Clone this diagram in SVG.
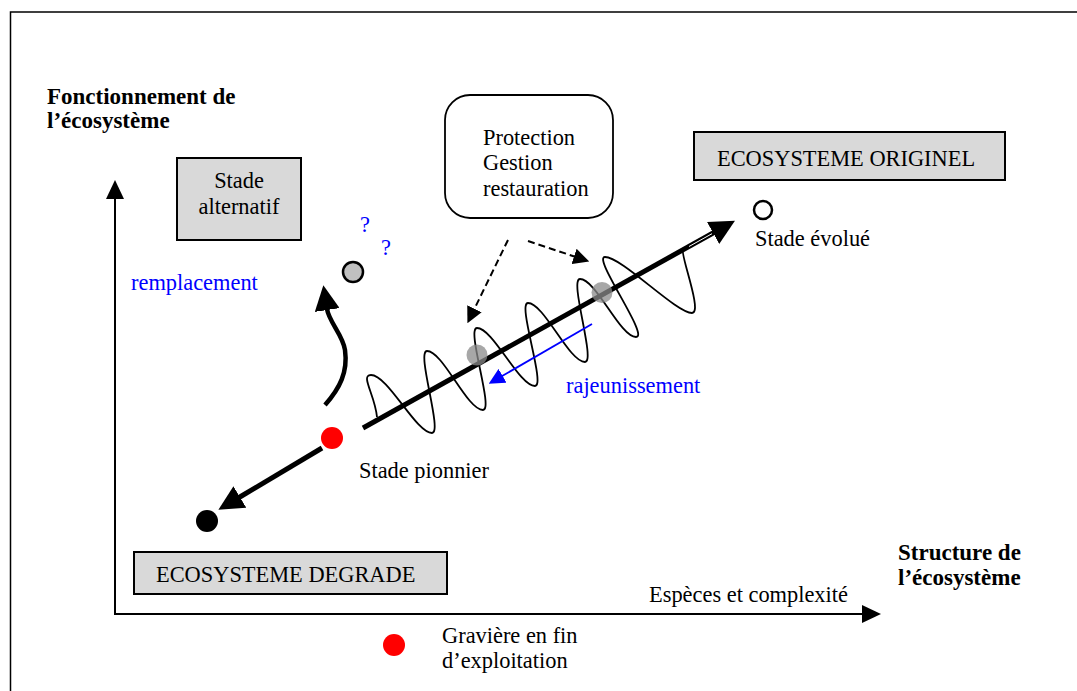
<svg xmlns="http://www.w3.org/2000/svg" width="1077" height="691" viewBox="0 0 1077 691">
<style>
text{font-family:"Liberation Serif","Times New Roman",serif;font-size:22.4px;fill:#000}
.b{font-weight:bold;font-size:23px}
.blue{fill:#0000ff}
.box{fill:#d9d9d9;stroke:#000;stroke-width:2}
.ax{stroke:#000;stroke-width:2;fill:none}
.thick{stroke:#000;stroke-width:5;fill:none}
.dash{stroke:#000;stroke-width:2;stroke-dasharray:7 4;fill:none}
.wave{stroke:#000;stroke-width:1.8;fill:none;stroke-linejoin:round}
</style>
<defs>
<marker id="big" markerUnits="userSpaceOnUse" viewBox="0 -12.5 25 25" markerWidth="25" markerHeight="25" refX="1" refY="0" orient="auto"><path d="M0,-12.5 L25,0 L0,12.5 z" fill="#000"/></marker>
<marker id="axh" markerUnits="userSpaceOnUse" viewBox="0 -9 19 18" markerWidth="19" markerHeight="18" refX="1" refY="0" orient="auto"><path d="M0,-9 L19,0 L0,9 z" fill="#000"/></marker>
<marker id="sm" markerUnits="userSpaceOnUse" viewBox="0 -8 16 16" markerWidth="16" markerHeight="16" refX="1" refY="0" orient="auto"><path d="M0,-8 L16,0 L0,8 z" fill="#000"/></marker>
<marker id="smb" markerUnits="userSpaceOnUse" viewBox="0 -8 16 16" markerWidth="16" markerHeight="16" refX="1" refY="0" orient="auto"><path d="M0,-8 L16,0 L0,8 z" fill="#0000ff"/></marker>
</defs>
<rect width="1077" height="691" fill="#fff"/>
<g id="frame"><path d="M10.5,691 V12 H1077" stroke="#000" stroke-width="1.5" fill="none"/></g>

<g id="connectors">
<line id="y-axis" class="ax" x1="115" y1="614" x2="115" y2="198" marker-end="url(#axh)"/>
<line id="x-axis" class="ax" x1="114" y1="614" x2="863" y2="614" marker-end="url(#axh)"/>
<path id="wave" class="wave" d="M377,417 C375,395 360,375 371,375 C388,375 416,433 432,433 C443,433 416,351 427,351 C443,351 467,410 483,410 C494,410 466,328 477,328 C493,328 519,386 535,386 C546,386 517,303 528,303 C544,303 569,362 585,362 C596,362 569,279 580,279 C596,279 620,337 636,337 C650,337 592,257 605,257 C622,257 676,313 692,313 C703,313 680,254 683,250"/>
<line id="main-arrow" class="thick" x1="363" y1="428" x2="714" y2="232.5" marker-end="url(#big)"/>
<line x1="689" y1="246.5" x2="712" y2="233.7" stroke="#fff" stroke-width="1"/>
<line id="degrade-arrow" class="thick" x1="322" y1="448" x2="239" y2="497.5" marker-end="url(#big)"/>
<path id="replace-arrow" d="M325,405 C340,388 348,372 345,350 C343,335 329,322 327,309" stroke="#000" stroke-width="4.5" fill="none" marker-end="url(#big)"/>
<line id="dash1" class="dash" x1="508" y1="240" x2="474" y2="309.7" marker-end="url(#sm)"/>
<line id="dash2" class="dash" x1="528" y1="241" x2="575" y2="256.7" marker-end="url(#sm)"/>
<line id="rajeun-arrow" x1="592" y1="324" x2="501.7" y2="376.3" stroke="#0000ff" stroke-width="1.8" marker-end="url(#smb)"/>
</g>

<g id="stage-dots">
<circle cx="477" cy="355" r="10.5" fill="#8a8a8a" fill-opacity="0.75"/>
<circle cx="602" cy="292.5" r="10.5" fill="#8a8a8a" fill-opacity="0.75"/>
</g>

<g id="axis-y-label"><text class="b" x="47" y="104">Fonctionnement de</text><text class="b" x="47" y="128">l’écosystème</text></g>
<g id="axis-x-label"><text class="b" x="898" y="560">Structure de</text><text class="b" x="898" y="585">l’écosystème</text></g>
<g id="axis-x-sub"><text x="649" y="602">Espèces et complexité</text></g>

<g id="stade-alternatif"><rect class="box" x="177" y="158" width="124" height="82"/><text x="239" y="188" text-anchor="middle">Stade</text><text x="239" y="214" text-anchor="middle">alternatif</text></g>
<g id="eco-originel"><rect class="box" x="694" y="132" width="311" height="48"/><text x="717" y="166">ECOSYSTEME ORIGINEL</text></g>
<g id="eco-degrade"><rect class="box" x="134" y="552" width="313" height="42"/><text x="156" y="582">ECOSYSTEME DEGRADE</text></g>
<g id="protection"><rect x="445" y="95" width="168" height="123" rx="25" fill="#fff" stroke="#000" stroke-width="1.8"/><text x="483" y="145">Protection</text><text x="483" y="170">Gestion</text><text x="483" y="196">restauration</text></g>

<g id="alt-point"><circle cx="353" cy="272" r="10" fill="#c0c0c0" stroke="#000" stroke-width="2.5"/><text class="blue" x="360" y="232" font-size="20">?</text><text class="blue" x="381" y="255" font-size="20">?</text></g>
<g id="remplacement"><text class="blue" x="131" y="290">remplacement</text></g>
<g id="rajeunissement"><text class="blue" x="566" y="393">rajeunissement</text></g>
<g id="stade-evolue"><circle cx="763" cy="210" r="9" fill="#fff" stroke="#000" stroke-width="2.5"/><text x="755" y="246">Stade évolué</text></g>
<g id="stade-pionnier"><circle cx="332" cy="438" r="11" fill="#ff0000"/><text x="359" y="478">Stade pionnier</text></g>
<g id="degrade-point"><circle cx="207" cy="521" r="11" fill="#000"/></g>
<g id="legend"><circle cx="394" cy="645" r="11" fill="#ff0000"/><text x="442" y="643">Gravière en fin</text><text x="442" y="668">d’exploitation</text></g>
</svg>
